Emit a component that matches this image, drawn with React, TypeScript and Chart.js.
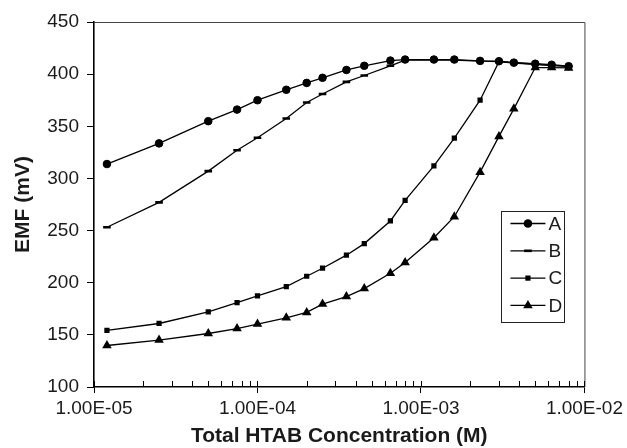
import React, { useEffect, useRef } from 'react';
import { Chart, registerables } from 'chart.js';

Chart.register(...registerables);

// ---- data ----
const CONCENTRATIONS = [
  1.2e-5, 2.5e-5, 5e-5, 7.5e-5, 1e-4, 1.5e-4, 2e-4, 2.5e-4, 3.5e-4, 4.5e-4,
  6.5e-4, 8e-4, 1.2e-3, 1.6e-3, 2.3e-3, 3e-3, 3.7e-3, 5e-3, 6.3e-3, 8e-3,
];
const SERIES_A = [313.8, 333.6, 354.9, 366, 375, 385, 391.6, 396.5, 404, 408, 413, 414, 414, 414, 412.7, 412.4, 411, 410, 409, 407.6];
const SERIES_B = [253.2, 277, 307, 327, 339, 357.5, 372.8, 381, 392.6, 398.7, 408, 413.5, 413.5, 413.5, 412.5, 412, 410.5, 409.5, 408.5, 407.5];
const SERIES_C = [154.2, 160.9, 172, 181, 187.4, 196.3, 206.2, 213.9, 226.4, 237.5, 259.2, 279, 312.1, 338.7, 375, 412, 411, 409.5, 408.5, 407.5];
const SERIES_D = [139.8, 145, 151.3, 156, 160.3, 166.3, 171.5, 179.5, 186.7, 194.4, 209, 219.3, 243.2, 263.3, 306, 340.3, 366.7, 406.3, 406.3, 406];
const SERIES_LABELS = ['A', 'B', 'C', 'D'];

const X_DECADES = [1e-5, 1e-4, 1e-3, 1e-2];
const X_TICK_LABELS = ['1.00E-05', '1.00E-04', '1.00E-03', '1.00E-02'];
const X_MINOR_MULTIPLIERS = [2, 3, 4, 5, 6, 7, 8, 9];
const Y_MIN = 100;
const Y_MAX = 450;
const Y_STEP = 50;
const X_TITLE = 'Total HTAB Concentration (M)';
const Y_TITLE = 'EMF (mV)';

const FONT = '"Liberation Sans", Arial, Helvetica, sans-serif';
const INK = '#000000';
const TEXT = '#1a1a1a';

const isDecade = (v: number) => X_DECADES.some((d) => Math.abs(v / d - 1) < 1e-6);

type Marker = 'circle' | 'dash' | 'rect' | 'triangle';
const MARKERS: Marker[] = ['circle', 'dash', 'rect', 'triangle'];

function drawMarker(ctx: CanvasRenderingContext2D, kind: Marker, x: number, y: number) {
  ctx.fillStyle = INK;
  ctx.beginPath();
  if (kind === 'circle') {
    ctx.arc(x, y, 4.3, 0, Math.PI * 2);
    ctx.fill();
  } else if (kind === 'dash') {
    ctx.fillRect(x - 3.8, y - 1.3, 7.6, 2.6);
  } else if (kind === 'rect') {
    ctx.fillRect(x - 2.6, y - 2.6, 5.2, 5.2);
  } else {
    const r = 5.5;
    ctx.moveTo(x, y - r);
    ctx.lineTo(x + r * 0.866, y + r * 0.5);
    ctx.lineTo(x - r * 0.866, y + r * 0.5);
    ctx.closePath();
    ctx.fill();
  }
}

const framePlugin = {
  id: 'frameAndMinorTicks',
  afterDatasetsDraw(chart: any) {
    const { ctx, chartArea } = chart;
    const { left, right, top, bottom } = chartArea;
    ctx.save();
    // top & right frame
    ctx.strokeStyle = '#444';
    ctx.lineWidth = 1;
    ctx.beginPath();
    ctx.moveTo(left, top + 0.5);
    ctx.lineTo(right + 0.5, top + 0.5);
    ctx.lineTo(right + 0.5, bottom);
    ctx.stroke();
    // inward ticks on the x axis
    const xs = chart.scales.x;
    ctx.strokeStyle = INK;
    ctx.lineWidth = 1;
    xs.ticks.forEach((t: any) => {
      const px = Math.round(xs.getPixelForValue(t.value)) + 0.5;
      ctx.beginPath();
      ctx.moveTo(px, bottom);
      ctx.lineTo(px, bottom - 6);
      ctx.stroke();
    });
    ctx.restore();
  },
};

const legendPlugin = {
  id: 'insetLegend',
  afterDraw(chart: any) {
    const { ctx, chartArea } = chart;
    const x0 = chartArea.right - 83;
    const y0 = chartArea.top + 189;
    const w = 63;
    const h = 111;
    ctx.save();
    ctx.fillStyle = '#ffffff';
    ctx.fillRect(x0, y0, w, h);
    ctx.strokeStyle = '#222';
    ctx.lineWidth = 1;
    ctx.strokeRect(Math.round(x0) + 0.5, Math.round(y0) + 0.5, w, h);
    chart.data.datasets.forEach((ds: any, i: number) => {
      const y = y0 + 12.5 + i * 27.3;
      ctx.strokeStyle = INK;
      ctx.lineWidth = 1.3;
      ctx.beginPath();
      ctx.moveTo(x0 + 9, y);
      ctx.lineTo(x0 + 44, y);
      ctx.stroke();
      drawMarker(ctx, MARKERS[i], x0 + 26.5, y);
      ctx.fillStyle = TEXT;
      ctx.font = `19px ${FONT}`;
      ctx.textBaseline = 'middle';
      ctx.textAlign = 'left';
      ctx.fillText(ds.label, x0 + 47, y + 1);
    });
    ctx.restore();
  },
};

const POINT_STYLE: Record<Marker, any> = {
  circle: { pointStyle: 'circle', pointRadius: 3.8, pointBorderWidth: 1 },
  dash: { pointStyle: 'line', pointRadius: 3.8, pointBorderWidth: 2.6 },
  rect: { pointStyle: 'rect', pointRadius: 3.7, pointBorderWidth: 0 },
  triangle: { pointStyle: 'triangle', pointRadius: 5.5, pointBorderWidth: 0 },
};

export default function App() {
  const canvasRef = useRef<HTMLCanvasElement | null>(null);

  useEffect(() => {
    document.body.style.margin = '0';
    const canvas = canvasRef.current;
    if (!canvas) return;
    const seriesValues = [SERIES_A, SERIES_B, SERIES_C, SERIES_D];
    const datasets = seriesValues.map((vals, i) => ({
      label: SERIES_LABELS[i],
      data: vals.map((y, j) => ({ x: CONCENTRATIONS[j], y })),
      borderColor: INK,
      backgroundColor: INK,
      pointBackgroundColor: INK,
      pointBorderColor: INK,
      borderWidth: 1.3,
      tension: 0,
      ...POINT_STYLE[MARKERS[i]],
    }));

    const chart = new Chart(canvas, {
      type: 'line',
      data: { datasets },
      plugins: [framePlugin, legendPlugin],
      options: {
        animation: false,
        responsive: false,
        maintainAspectRatio: false,
        devicePixelRatio: 1,
        layout: { padding: { top: 22, right: 42, bottom: 0, left: 0 } },
        plugins: { legend: { display: false }, tooltip: { enabled: false } },
        scales: {
          x: {
            type: 'logarithmic',
            min: X_DECADES[0],
            max: X_DECADES[X_DECADES.length - 1],
            afterBuildTicks: (scale: any) => {
              const ticks: any[] = [];
              for (let d = 0; d < X_DECADES.length; d++) {
                ticks.push({ value: X_DECADES[d] });
                if (d < X_DECADES.length - 1) {
                  X_MINOR_MULTIPLIERS.forEach((m) => ticks.push({ value: X_DECADES[d] * m }));
                }
              }
              scale.ticks = ticks;
            },
            afterFit: (scale: any) => {
              scale.height = 61;
            },
            border: { display: true, color: INK, width: 1.6 },
            grid: {
              display: true,
              drawOnChartArea: false,
              drawTicks: true,
              tickLength: 6,
              lineWidth: 1,
              color: (c: any) => (c.tick && isDecade(c.tick.value) ? INK : 'rgba(0,0,0,0)'),
            },
            ticks: {
              autoSkip: false,
              maxRotation: 0,
              padding: 4,
              color: TEXT,
              font: { family: FONT, size: 19 },
              callback: (value: any) => {
                const idx = X_DECADES.findIndex((d) => Math.abs(Number(value) / d - 1) < 1e-6);
                return idx >= 0 ? X_TICK_LABELS[idx] : '';
              },
            },
            title: {
              display: true,
              text: X_TITLE,
              color: TEXT,
              font: { family: FONT, size: 21, weight: 'bold', lineHeight: 1 },
              padding: { top: 0, bottom: 1 },
            },
          },
          y: {
            type: 'linear',
            min: Y_MIN,
            max: Y_MAX,
            afterFit: (scale: any) => {
              scale.width = 94;
            },
            border: { display: true, color: INK, width: 1.6 },
            grid: {
              display: true,
              drawOnChartArea: false,
              drawTicks: true,
              tickLength: 7,
              color: INK,
              lineWidth: 1,
            },
            ticks: {
              stepSize: Y_STEP,
              padding: 8,
              color: TEXT,
              font: { family: FONT, size: 19 },
            },
            title: {
              display: true,
              text: Y_TITLE,
              color: TEXT,
              font: { family: FONT, size: 21, weight: 'bold', lineHeight: 1 },
              padding: { top: 13, bottom: 0 },
            },
          },
        },
      } as any,
    });
    return () => chart.destroy();
  }, []);

  return (
    <div style={{ width: 627, height: 448, background: '#fff' }}>
      <canvas ref={canvasRef} width={627} height={448} style={{ display: 'block' }} />
    </div>
  );
}
